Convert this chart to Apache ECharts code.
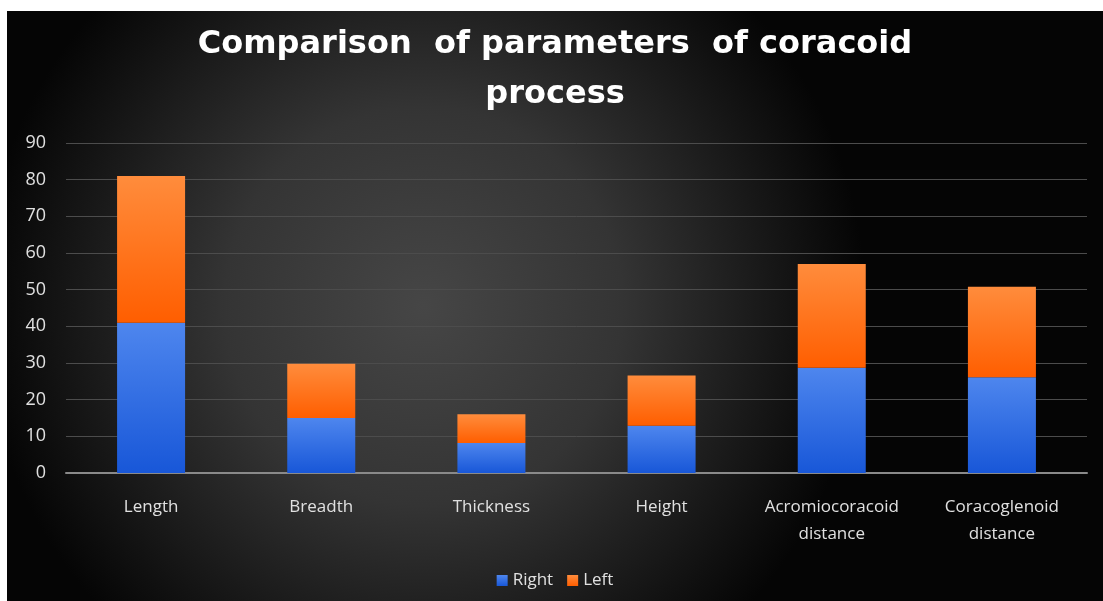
<!DOCTYPE html>
<html>
<head>
<meta charset="utf-8">
<script src="https://cdn.jsdelivr.net/npm/echarts@6/dist/echarts.min.js"></script>
<style>
html,body{margin:0;padding:0;background:#fff;}
#chart{position:absolute;left:7px;top:11px;width:1096px;height:590px;}
</style>
</head>
<body>
<div id="chart"></div>
<script>
var categories = ['Length', 'Breadth', 'Thickness', 'Height', 'Acromiocoracoid\ndistance', 'Coracoglenoid\ndistance'];
var rightValues = [41, 15, 8.2, 12.9, 28.7, 26.1];
var leftValues = [40, 14.8, 7.8, 13.7, 28.3, 24.7];
var seriesNames = ['Right', 'Left'];
var titleText = 'Comparison  of parameters  of coracoid\nprocess';

var chart = echarts.init(document.getElementById('chart'), null, {renderer: 'canvas'});
var font = '"Open Sans", "Noto Sans", sans-serif';
function grad(top, bottom) {
  return new echarts.graphic.LinearGradient(0, 0, 0, 1, [
    {offset: 0, color: top}, {offset: 1, color: bottom}
  ]);
}
chart.setOption({
  backgroundColor: {
    type: 'radial', x: 0.38, y: 0.5, r: 0.75,
    colorStops: [
      {offset: 0, color: '#464646'},
      {offset: 0.45, color: '#343434'},
      {offset: 1, color: '#050505'}
    ]
  },
  title: {
    text: titleText,
    left: 'center',
    top: 4,
    textStyle: {
      color: '#ffffff', fontSize: 32, fontWeight: 'bold',
      fontFamily: '"DejaVu Sans", sans-serif', lineHeight: 50
    }
  },
  legend: {
    data: seriesNames,
    bottom: 7,
    left: 'center',
    icon: 'rect',
    itemWidth: 11,
    itemHeight: 11,
    itemGap: 14,
    textStyle: {color: '#e0e0e0', fontSize: 17, fontFamily: font}
  },
  grid: {left: 59, right: 16, top: 132, bottom: 128, containLabel: false},
  xAxis: {
    type: 'category',
    data: categories,
    axisLine: {lineStyle: {color: '#8a8a8a', width: 2}},
    axisTick: {show: false},
    axisLabel: {color: '#e0e0e0', fontSize: 17, fontFamily: font, margin: 21, lineHeight: 27, interval: 0}
  },
  yAxis: {
    type: 'value',
    min: 0, max: 90, interval: 10,
    axisLine: {show: false},
    axisTick: {show: false},
    splitLine: {lineStyle: {color: '#4c4c4c', width: 1}},
    axisLabel: {color: '#e0e0e0', fontSize: 18, fontFamily: font, margin: 20}
  },
  series: [
    {
      name: seriesNames[0], type: 'bar', stack: 'total', data: rightValues,
      barWidth: 68,
      itemStyle: {color: grad('#4e86ee', '#1857d8'), shadowBlur: 4, shadowColor: 'rgba(0,0,0,0.6)'}
    },
    {
      name: seriesNames[1], type: 'bar', stack: 'total', data: leftValues,
      barWidth: 68,
      itemStyle: {color: grad('#ff8c3c', '#ff5e00'), shadowBlur: 4, shadowColor: 'rgba(0,0,0,0.6)'}
    }
  ]
});
</script>
</body>
</html>
